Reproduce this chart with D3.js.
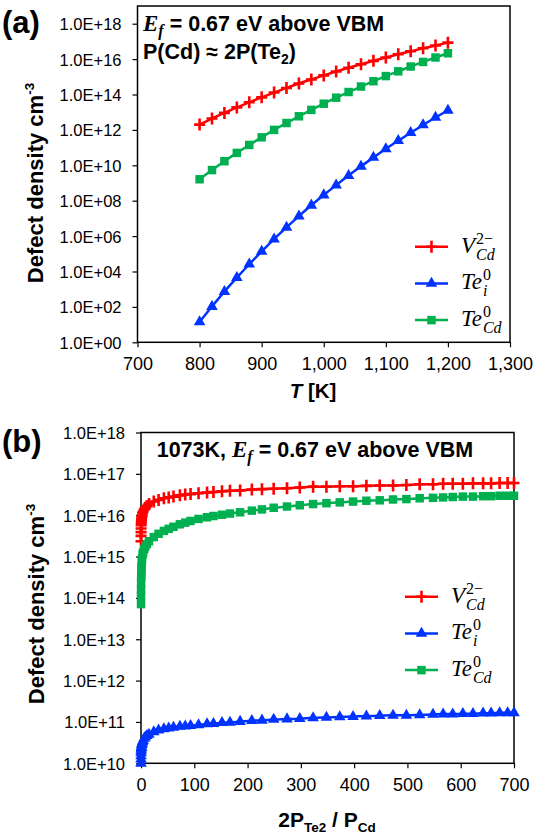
<!DOCTYPE html>
<html><head><meta charset="utf-8">
<script src="https://cdn.jsdelivr.net/npm/d3@7/dist/d3.min.js"></script>
<style>body{margin:0;background:#fff}svg{display:block}</style>
</head><body><svg id="c" width="534" height="839"></svg>
<script>
// ---------- Panel (a) data: defect density vs temperature (log10 of cm^-3) ----------
const tempsA = [800,820,840,860,880,900,920,940,960,980,1000,1020,1040,1060,1080,1100,1120,1140,1160,1180,1200];
const vcdLog10A  = [12.30,12.64,12.96,13.27,13.56,13.84,14.11,14.37,14.62,14.85,15.08,15.30,15.51,15.71,15.90,16.09,16.27,16.44,16.61,16.77,16.93];
const teiLog10A  = [1.15,2.02,2.86,3.65,4.41,5.13,5.83,6.49,7.13,7.74,8.32,8.88,9.42,9.94,10.44,10.93,11.39,11.84,12.28,12.70,13.10];
const tecdLog10A = [9.21,9.73,10.23,10.70,11.15,11.58,12.00,12.39,12.77,13.13,13.48,13.82,14.14,14.45,14.75,15.04,15.31,15.58,15.84,16.09,16.33];
const xTicksA = [700,800,900,1000,1100,1200,1300];
const yTicksA = [1e0,1e2,1e4,1e6,1e8,1e10,1e12,1e14,1e16,1e18];

// ---------- Panel (b) data: defect density vs 2P(Te2)/P(Cd) at 1073 K ----------
const ratioB = [0.02,0.05,0.1,0.2,0.35,0.5,0.75,1,1.5,2,3,4,6,8,11,15,24,33,43,52,61,73,83,93,108,124,136,152,167,186,208,227,249,274,298,323,348,373,398,423,448,473,498,523,548,567,585,604,623,642,657,673,688,700];
const vcdLog10B  = [15.37,15.50,15.59,15.68,15.76,15.81,15.86,15.90,15.96,15.99,16.05,16.09,16.14,16.18,16.22,16.27,16.33,16.37,16.41,16.43,16.45,16.48,16.50,16.51,16.53,16.55,16.56,16.58,16.59,16.60,16.62,16.63,16.64,16.65,16.67,16.69,16.69,16.70,16.70,16.71,16.72,16.72,16.73,16.75,16.75,16.76,16.76,16.76,16.77,16.77,16.77,16.78,16.78,16.78];
const teiLog10B  = [10.00,10.10,10.18,10.25,10.30,10.34,10.38,10.41,10.45,10.48,10.52,10.55,10.60,10.63,10.67,10.70,10.76,10.80,10.83,10.85,10.87,10.89,10.90,10.91,10.93,10.95,10.96,10.98,10.99,11.01,11.03,11.04,11.06,11.07,11.08,11.10,11.11,11.12,11.13,11.14,11.15,11.16,11.16,11.17,11.18,11.19,11.19,11.20,11.20,11.21,11.21,11.22,11.22,11.22];
const tecdLog10B = [13.85,14.05,14.20,14.37,14.50,14.58,14.68,14.76,14.87,14.95,15.05,15.10,15.18,15.24,15.30,15.37,15.47,15.55,15.62,15.67,15.72,15.78,15.82,15.86,15.91,15.95,15.98,16.01,16.04,16.07,16.11,16.14,16.18,16.21,16.24,16.27,16.29,16.31,16.33,16.35,16.36,16.38,16.39,16.41,16.42,16.43,16.44,16.45,16.45,16.46,16.46,16.47,16.47,16.47];
const xTicksB = [0,100,200,300,400,500,600,700];
const yTicksB = [1e10,1e11,1e12,1e13,1e14,1e15,1e16,1e17,1e18];

const COLORS = {vcd:"#ff0000", tei:"#0033ff", tecd:"#00b050"};
const MARK = {vcd:"plus", tei:"tri", tecd:"sq"};

const svg = d3.select("#c");
const SANS = "'Liberation Sans', Arial, sans-serif";
const SERIF = "'Liberation Serif', 'Times New Roman', serif";
const fmtE = d => "1.0E+" + String(Math.round(Math.log10(d))).padStart(2, "0");

function drawMarkers(g, pts, kind, color) {
  const sel = g.selectAll(null).data(pts).join("path")
    .attr("transform", p => `translate(${p[0]},${p[1]})`);
  if (kind === "plus") {
    sel.attr("d", "M-5.5,0H5.5M0,-6V6").attr("fill", "none").attr("stroke", color).attr("stroke-width", 2.6);
  } else if (kind === "tri") {
    sel.attr("d", d3.symbol(d3.symbolTriangle, 58)()).attr("fill", color);
  } else {
    sel.attr("d", d3.symbol(d3.symbolSquare, 72)()).attr("fill", color);
  }
}

function mathLabel(g, x, y, main, sub, sup) {
  const t = g.append("text").attr("x", x).attr("y", y)
    .attr("font-family", SERIF).attr("font-style", "italic").attr("font-size", 23).text(main);
  const w = t.node().getComputedTextLength();
  g.append("text").attr("x", x + w + 1).attr("y", y + 7)
    .attr("font-family", SERIF).attr("font-style", "italic").attr("font-size", 16).text(sub);
  g.append("text").attr("x", x + w + 1).attr("y", y - 9)
    .attr("font-family", SERIF).attr("font-size", 16).text(sup);
}

function panel(o) {
  const g = svg.append("g");
  const x = d3.scaleLinear(o.xDomain, [o.left, o.right]);
  const y = d3.scaleLog(o.yDomain, [o.bottom, o.top]);

  const ya = g.append("g").attr("transform", `translate(${o.left},0)`)
    .call(d3.axisLeft(y).tickValues(o.yTicks).tickFormat(fmtE).tickSize(5).tickSizeOuter(0));
  ya.select(".domain").remove();
  ya.selectAll("text").attr("font-family", SANS).attr("font-size", 16.5).attr("fill", "#000").attr("x", -16).attr("dy", "0.36em");
  ya.selectAll("line").attr("stroke", "#000").attr("stroke-width", 1.2);

  const xa = g.append("g").attr("transform", `translate(0,${o.bottom})`)
    .call(d3.axisBottom(x).tickValues(o.xTicks).tickFormat(o.xFmt).tickSize(5).tickSizeOuter(0));
  xa.select(".domain").remove();
  xa.selectAll("text").attr("font-family", SANS).attr("font-size", 18).attr("fill", "#000").attr("y", 28).attr("dy", 0);
  xa.selectAll("line").attr("stroke", "#000").attr("stroke-width", 1.2);

  g.append("rect").attr("x", o.left).attr("y", o.top).attr("width", o.right - o.left).attr("height", o.bottom - o.top)
    .attr("fill", "none").attr("stroke", "#000").attr("stroke-width", 1.5);

  const line = d3.line().curve(d3.curveMonotoneX);
  o.series.forEach(s => {
    const pts = o.xs.map((v, i) => [x(v), y(Math.pow(10, s.vals[i]))]);
    g.append("path").attr("d", line(pts)).attr("fill", "none").attr("stroke", COLORS[s.key]).attr("stroke-width", 2.5);
    drawMarkers(g.append("g"), pts, MARK[s.key], COLORS[s.key]);
  });

  o.series.forEach((s, i) => {
    const ly = o.legY + i * o.legGap;
    g.append("line").attr("x1", o.legX).attr("x2", o.legX + 33).attr("y1", ly).attr("y2", ly)
      .attr("stroke", COLORS[s.key]).attr("stroke-width", 2.5);
    drawMarkers(g.append("g"), [[o.legX + 16.5, ly]], MARK[s.key], COLORS[s.key]);
  });
  const lx = o.legX + 46;
  mathLabel(g, lx, o.legY + 6, "V", "Cd", "2\u2212");
  mathLabel(g, lx, o.legY + o.legGap + 6, "Te", "i", "0");
  mathLabel(g, lx, o.legY + 2 * o.legGap + 6, "Te", "Cd", "0");

  const yt = g.append("text").attr("transform", `translate(${o.yTitleX},${o.yTitleY}) rotate(-90)`)
    .attr("text-anchor", "middle").attr("font-family", SANS).attr("font-weight", "bold").attr("font-size", 22);
  yt.append("tspan").text("Defect density cm");
  yt.append("tspan").attr("font-size", 13.5).attr("dy", -9).text("-3");

  g.append("text").attr("x", 2).attr("y", o.letterY).attr("font-family", SANS).attr("font-weight", "bold")
    .attr("font-size", 31).text(o.letter);
  return {g, x, y};
}

const A = panel({
  left: 137.5, right: 510, top: 6, bottom: 342.3,
  xDomain: [700, 1300], yDomain: [1, 1e19],
  xTicks: xTicksA, yTicks: yTicksA, xFmt: d3.format(","),
  xs: tempsA,
  series: [{key:"vcd", vals:vcdLog10A}, {key:"tei", vals:teiLog10A}, {key:"tecd", vals:tecdLog10A}],
  legX: 415, legY: 246.7, legGap: 36.7,
  yTitleX: 43, yTitleY: 183, letter: "(a)", letterY: 33
});
const tA = A.g.append("text").attr("x", 313).attr("y", 398).attr("text-anchor", "middle")
  .attr("font-family", SANS).attr("font-weight", "bold").attr("font-size", 20.5);
tA.append("tspan").attr("font-style", "italic").text("T");
tA.append("tspan").text(" [K]");

function efLine(g, x, y, prefix) {
  const t = g.append("text").attr("x", x).attr("y", y).attr("font-family", SANS).attr("font-weight", "bold").attr("font-size", 21.5);
  if (prefix) t.append("tspan").text(prefix);
  t.append("tspan").attr("font-family", SERIF).attr("font-style", "italic").attr("font-weight", "bold").attr("font-size", 23).text("E");
  t.append("tspan").attr("font-family", SERIF).attr("font-style", "italic").attr("font-weight", "bold").attr("font-size", 16).attr("dy", 5).text("f");
  t.append("tspan").attr("dy", -5).text(" = 0.67 eV above VBM");
}
efLine(A.g, 143, 31, "");
const pA = A.g.append("text").attr("x", 143).attr("y", 59).attr("font-family", SANS).attr("font-weight", "bold").attr("font-size", 21.5);
pA.append("tspan").text("P(Cd) \u2248 2P(Te");
pA.append("tspan").attr("font-size", 14).attr("dy", 5).text("2");
pA.append("tspan").attr("dy", -5).text(")");

const B = panel({
  left: 141, right: 514, top: 432.5, bottom: 763.3,
  xDomain: [0, 700], yDomain: [1e10, 1e18],
  xTicks: xTicksB, yTicks: yTicksB, xFmt: d3.format("d"),
  xs: ratioB,
  series: [{key:"vcd", vals:vcdLog10B}, {key:"tei", vals:teiLog10B}, {key:"tecd", vals:tecdLog10B}],
  legX: 405, legY: 596.7, legGap: 36.7,
  yTitleX: 44, yTitleY: 604, letter: "(b)", letterY: 452
});
efLine(B.g, 156.7, 457, "1073K, ");
const tB = B.g.append("text").attr("x", 327).attr("y", 827).attr("text-anchor", "middle")
  .attr("font-family", SANS).attr("font-weight", "bold").attr("font-size", 21);
tB.append("tspan").text("2P");
tB.append("tspan").attr("font-size", 13.5).attr("dy", 5).text("Te2");
tB.append("tspan").attr("dy", -5).text(" / P");
tB.append("tspan").attr("font-size", 13.5).attr("dy", 5).text("Cd");
</script>
</body></html>
